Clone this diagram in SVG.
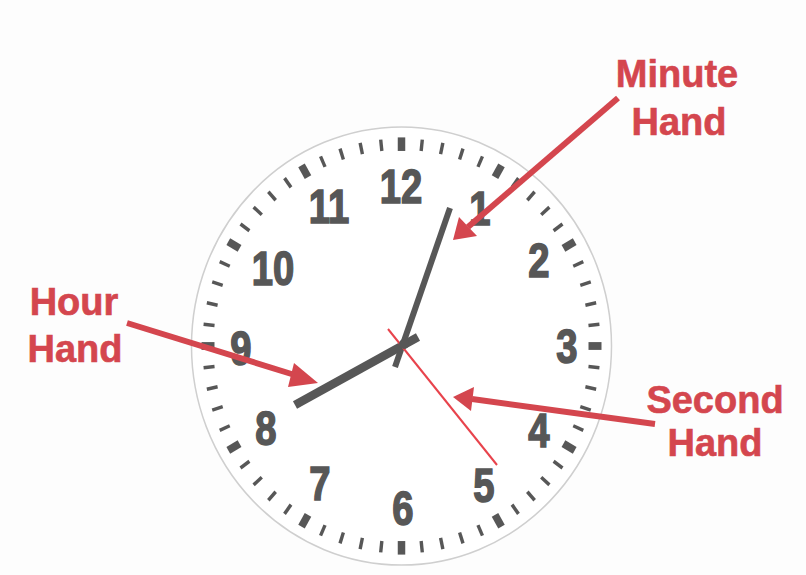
<svg xmlns="http://www.w3.org/2000/svg" xmlns:xlink="http://www.w3.org/1999/xlink" width="806" height="575" viewBox="0 0 806 575">
<style>
.num{font-family:"Liberation Sans",Arial,sans-serif;font-weight:bold;font-size:49px;fill:#575757;stroke:#575757;stroke-width:1.6;text-anchor:middle}
.lbl{font-family:"Liberation Sans",Arial,sans-serif;font-weight:bold;font-size:38px;fill:#d4464e;stroke:#d4464e;stroke-width:0.6;text-anchor:middle}
.mi{stroke:#575757;stroke-width:3.4}
.ma{stroke:#575757;stroke-width:7.5}
.arr{stroke:#d4464e;stroke-width:6;fill:none}
</style>
<defs>
<line id="tmin" x1="0" y1="-188" x2="0" y2="-199" class="mi"/>
<line id="tmaj" x1="0" y1="-187" x2="0" y2="-200" class="ma"/>
</defs>
<rect x="0" y="0" width="806" height="575" fill="#fdfdfd"/>
<g id="clock-face" transform="translate(401.5,346) scale(1,1.043)">
<circle cx="0" cy="0" r="210" fill="#ffffff" stroke="#cfcfcf" stroke-width="1.5"/>
<g id="ticks">
<use xlink:href="#tmaj" transform="rotate(0)"/><use xlink:href="#tmin" transform="rotate(6)"/><use xlink:href="#tmin" transform="rotate(12)"/><use xlink:href="#tmin" transform="rotate(18)"/><use xlink:href="#tmin" transform="rotate(24)"/>
<use xlink:href="#tmaj" transform="rotate(30)"/><use xlink:href="#tmin" transform="rotate(36)"/><use xlink:href="#tmin" transform="rotate(42)"/><use xlink:href="#tmin" transform="rotate(48)"/><use xlink:href="#tmin" transform="rotate(54)"/>
<use xlink:href="#tmaj" transform="rotate(60)"/><use xlink:href="#tmin" transform="rotate(66)"/><use xlink:href="#tmin" transform="rotate(72)"/><use xlink:href="#tmin" transform="rotate(78)"/><use xlink:href="#tmin" transform="rotate(84)"/>
<use xlink:href="#tmaj" transform="rotate(90)"/><use xlink:href="#tmin" transform="rotate(96)"/><use xlink:href="#tmin" transform="rotate(102)"/><use xlink:href="#tmin" transform="rotate(108)"/><use xlink:href="#tmin" transform="rotate(114)"/>
<use xlink:href="#tmaj" transform="rotate(120)"/><use xlink:href="#tmin" transform="rotate(126)"/><use xlink:href="#tmin" transform="rotate(132)"/><use xlink:href="#tmin" transform="rotate(138)"/><use xlink:href="#tmin" transform="rotate(144)"/>
<use xlink:href="#tmaj" transform="rotate(150)"/><use xlink:href="#tmin" transform="rotate(156)"/><use xlink:href="#tmin" transform="rotate(162)"/><use xlink:href="#tmin" transform="rotate(168)"/><use xlink:href="#tmin" transform="rotate(174)"/>
<use xlink:href="#tmaj" transform="rotate(180)"/><use xlink:href="#tmin" transform="rotate(186)"/><use xlink:href="#tmin" transform="rotate(192)"/><use xlink:href="#tmin" transform="rotate(198)"/><use xlink:href="#tmin" transform="rotate(204)"/>
<use xlink:href="#tmaj" transform="rotate(210)"/><use xlink:href="#tmin" transform="rotate(216)"/><use xlink:href="#tmin" transform="rotate(222)"/><use xlink:href="#tmin" transform="rotate(228)"/><use xlink:href="#tmin" transform="rotate(234)"/>
<use xlink:href="#tmaj" transform="rotate(240)"/><use xlink:href="#tmin" transform="rotate(246)"/><use xlink:href="#tmin" transform="rotate(252)"/><use xlink:href="#tmin" transform="rotate(258)"/><use xlink:href="#tmin" transform="rotate(264)"/>
<use xlink:href="#tmaj" transform="rotate(270)"/><use xlink:href="#tmin" transform="rotate(276)"/><use xlink:href="#tmin" transform="rotate(282)"/><use xlink:href="#tmin" transform="rotate(288)"/><use xlink:href="#tmin" transform="rotate(294)"/>
<use xlink:href="#tmaj" transform="rotate(300)"/><use xlink:href="#tmin" transform="rotate(306)"/><use xlink:href="#tmin" transform="rotate(312)"/><use xlink:href="#tmin" transform="rotate(318)"/><use xlink:href="#tmin" transform="rotate(324)"/>
<use xlink:href="#tmaj" transform="rotate(330)"/><use xlink:href="#tmin" transform="rotate(336)"/><use xlink:href="#tmin" transform="rotate(342)"/><use xlink:href="#tmin" transform="rotate(348)"/><use xlink:href="#tmin" transform="rotate(354)"/>
</g>
</g>
<g id="numbers">
<text class="num" transform="translate(401,203) scale(0.78,1)">12</text>
<text class="num" transform="translate(329,223) scale(0.78,1)">11</text>
<text class="num" transform="translate(480,225) scale(0.78,1)">1</text>
<text class="num" transform="translate(273,285) scale(0.78,1)">10</text>
<text class="num" transform="translate(539,277) scale(0.78,1)">2</text>
<text class="num" transform="translate(241,365) scale(0.78,1)">9</text>
<text class="num" transform="translate(567,363) scale(0.78,1)">3</text>
<text class="num" transform="translate(266,445) scale(0.78,1)">8</text>
<text class="num" transform="translate(539,447) scale(0.78,1)">4</text>
<text class="num" transform="translate(320,500) scale(0.78,1)">7</text>
<text class="num" transform="translate(484,502) scale(0.78,1)">5</text>
<text class="num" transform="translate(403,525) scale(0.78,1)">6</text>
</g>
<g id="hands">
<line id="minute-hand" x1="395" y1="367" x2="450" y2="208" stroke="#575757" stroke-width="6"/>
<line id="hour-hand" x1="295" y1="405" x2="418" y2="337" stroke="#575757" stroke-width="8.5"/>
<line id="second-hand" x1="388" y1="329" x2="497" y2="465" stroke="#e8434c" stroke-width="2"/>
<circle cx="404" cy="344" r="5" fill="#575757"/>
</g>
<g id="labels">
<text class="lbl"><tspan x="677" y="87">Minute</tspan><tspan x="679" y="135">Hand</tspan></text>
<text class="lbl"><tspan x="74" y="315">Hour</tspan><tspan x="75" y="362">Hand</tspan></text>
<text class="lbl"><tspan x="715" y="413">Second</tspan><tspan x="715" y="456">Hand</tspan></text>
</g>
<g id="connectors">
<line class="arr" x1="618" y1="98" x2="468" y2="227"/>
<polygon points="453,240 459,217 477,236" fill="#d4464e"/>
<line class="arr" x1="127" y1="323" x2="298" y2="376"/>
<polygon points="318,383 294,363 288,387" fill="#d4464e"/>
<line class="arr" x1="655" y1="424" x2="472" y2="399"/>
<polygon points="453,397 474,387 471,411" fill="#d4464e"/>
</g>
</svg>
